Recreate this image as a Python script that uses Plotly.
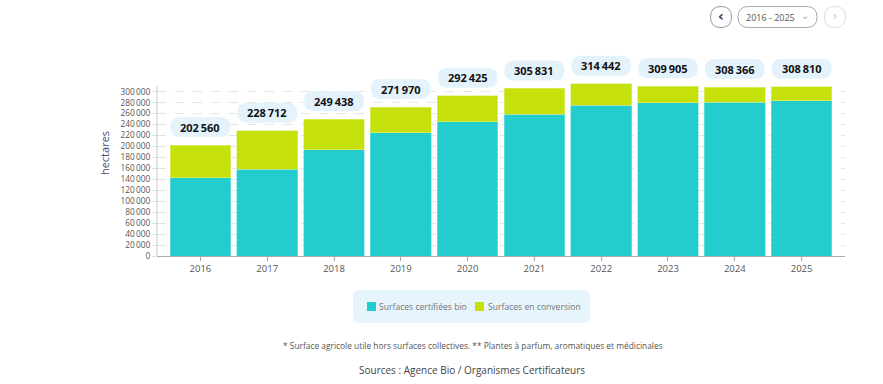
import plotly.graph_objects as go

years = ["2016", "2017", "2018", "2019", "2020", "2021", "2022", "2023", "2024", "2025"]
totals = [202560, 228712, 249438, 271970, 292425, 305831, 314442, 309905, 308366, 308810]
certified = [142700, 158600, 193900, 225000, 245100, 258600, 275500, 279500, 281000, 283000]
conversion = [t - c for t, c in zip(totals, certified)]
series_names = ["Surfaces certifiées bio", "Surfaces en conversion"]
ytick_vals = list(range(0, 300001, 20000))
ytick_text = [f"{v:,}".replace(",", "\u2009") for v in ytick_vals]

TEAL = "#23cdcd"
LIME = "#c6e00c"
PILL = "#e4f3fb"
FONT = "Open Sans"

PLOT_TOP = 50
PLOT_BOTTOM = 256
YMAX = 376000

xpos = list(range(len(years)))

fig = go.Figure()
fig.add_trace(go.Bar(x=xpos, y=certified, name=series_names[0],
                     marker=dict(color=TEAL, line=dict(color="#7fe3e0", width=0.6))))
fig.add_trace(go.Bar(x=xpos, y=conversion, name=series_names[1],
                     marker=dict(color=LIME, line=dict(color="#dfee80", width=0.6))))


def rrect(w, h, r, cx=0, cy=0):
    x0, x1 = cx - w / 2, cx + w / 2
    y0, y1 = cy - h / 2, cy + h / 2
    return (f"M {x0 + r},{y0} L {x1 - r},{y0} Q {x1},{y0} {x1},{y0 + r} "
            f"L {x1},{y1 - r} Q {x1},{y1} {x1 - r},{y1} L {x0 + r},{y1} "
            f"Q {x0},{y1} {x0},{y1 - r} L {x0},{y0 + r} Q {x0},{y0} {x0 + r},{y0} Z")


shapes = []
annotations = []

# y axis line (only up to just above the last gridline)
shapes.append(dict(type="line", xref="paper", yref="y", x0=0, x1=0, y0=0, y1=310000,
                   line=dict(color="#c8c8c8", width=1)))

for i, tot in zip(xpos, totals):
    shapes.append(dict(type="path", xref="x", yref="y", xsizemode="pixel", ysizemode="pixel",
                       xanchor=i, yanchor=tot, path=rrect(60, 20, 10, 0, 18),
                       fillcolor=PILL, line=dict(width=0), layer="above"))
    annotations.append(dict(x=i, y=tot, xref="x", yref="y", yshift=18, showarrow=False,
                            xanchor="center", yanchor="middle",
                            text="<b>" + f"{tot:,}".replace(",", "\u2009") + "</b>",
                            font=dict(family=FONT, size=11, color="#111")))


def px2paper(px, py):
    return (px - 157) / 688, (PLOT_BOTTOM - py) / (PLOT_BOTTOM - PLOT_TOP)


def pshape(px, py, w, h, r, fill, line):
    ax, ay = px2paper(px, py)
    return dict(type="path", xref="paper", yref="paper", xsizemode="pixel", ysizemode="pixel",
                xanchor=ax, yanchor=ay, path=rrect(w, h, r), fillcolor=fill, line=line)


def ptext(px, py, text, size, color, family=FONT, anchor="center"):
    ax, ay = px2paper(px, py)
    return dict(x=ax, y=ay, xref="paper", yref="paper", showarrow=False, text=text,
                xanchor=anchor, yanchor="middle", font=dict(family=family, size=size, color=color))


# legend (drawn manually)
shapes.append(pshape(471.5, 306.5, 237, 33, 7, "#e6f4fb", dict(width=0)))
shapes.append(pshape(371.5, 306.5, 9, 9, 0, TEAL, dict(width=0)))
annotations.append(ptext(377, 306.5, series_names[0], 8.6, "#777", anchor="left"))
shapes.append(pshape(479.5, 306.5, 9, 9, 0, LIME, dict(width=0)))
annotations.append(ptext(486, 306.5, series_names[1], 8.6, "#777", anchor="left"))

# top-right controls
shapes.append(pshape(721, 17, 21, 21, 10.5, "white", dict(width=1, color="#999")))
annotations.append(ptext(721, 16, "<b>‹</b>", 14, "#333", family="DejaVu Sans"))
shapes.append(pshape(777.5, 17, 79, 21, 10.5, "white", dict(width=1, color="#aaa")))
annotations.append(ptext(770, 17, "2016 - 2025", 9, "#555"))
annotations.append(ptext(805, 15, "⌄", 10, "#aaa", family="DejaVu Sans"))
shapes.append(pshape(835, 17, 21, 21, 10.5, "white", dict(width=1, color="#ddd")))
annotations.append(ptext(835, 16, "›", 14, "#ccc", family="DejaVu Sans"))

annotations.append(ptext(473, 345, "* Surface agricole utile hors surfaces collectives. ** Plantes à parfum, aromatiques et médicinales", 8.4, "#555"))
annotations.append(ptext(472, 370, "Sources : Agence Bio / Organismes Certificateurs", 10, "#444"))

fig.update_layout(
    width=883, height=384,
    margin=dict(l=157, r=38, t=PLOT_TOP, b=384 - PLOT_BOTTOM),
    paper_bgcolor="white", plot_bgcolor="white",
    barmode="stack", bargap=0.09,
    font=dict(family=FONT, color="#555"),
    showlegend=False,
    shapes=shapes, annotations=annotations,
    xaxis=dict(range=[-0.65, 9.65], tickvals=xpos, ticktext=years, showgrid=False, zeroline=False,
               showline=True, linecolor="#aaa", linewidth=1,
               ticks="outside", ticklen=4, tickcolor="#aaa",
               tickfont=dict(family=FONT, size=9.5, color="#555"), fixedrange=True),
    yaxis=dict(range=[0, YMAX], tickvals=ytick_vals, ticktext=ytick_text,
               showgrid=True, gridcolor="#e4e4e4", griddash="dash", gridwidth=1,
               showline=False, zeroline=False,
               ticks="outside", ticklen=4, tickcolor="#ddd",
               tickfont=dict(family=FONT, size=8.3, color="#555"),
               title=dict(text="hectares", font=dict(family=FONT, size=11, color="#4a4a70"), standoff=8),
               fixedrange=True),
)

fig.write_html("out.html")
